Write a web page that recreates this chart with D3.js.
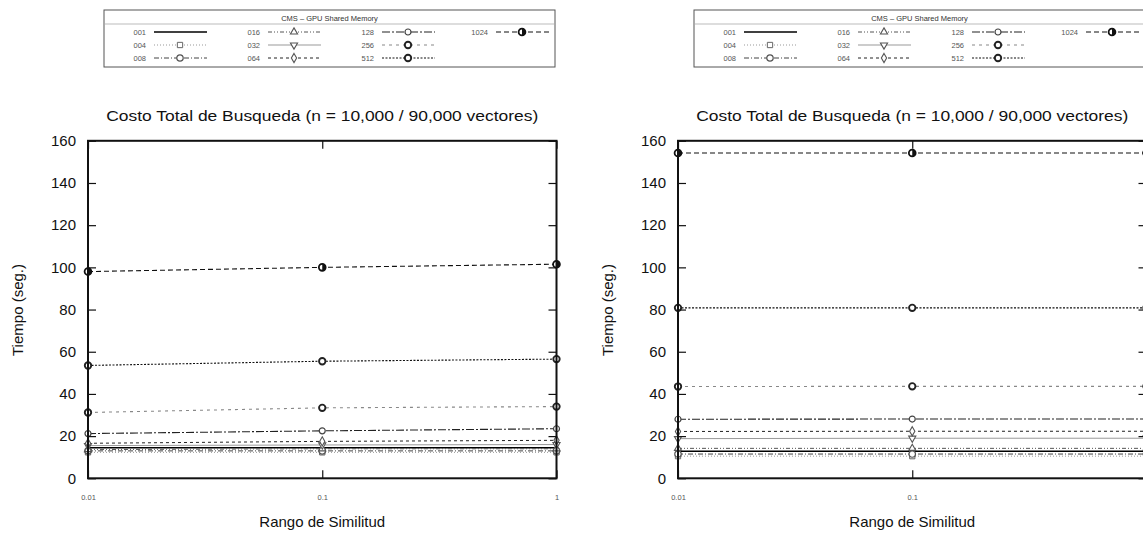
<!DOCTYPE html>
<html>
<head>
<meta charset="utf-8">
<script src="https://cdn.jsdelivr.net/npm/d3@7"></script>
<style>
  body { margin: 0; background: #fff; }
  svg { display: block; font-family: "Liberation Sans", Arial, sans-serif; }
</style>
</head>
<body>
<svg id="chart" width="1143" height="534"></svg>
<script>
// datos
var similitud = [0.01, 0.1, 1];
var series = ["001", "004", "008", "016", "032", "064", "128", "256", "512", "1024"];
var yTicks = [0, 20, 40, 60, 80, 100, 120, 140, 160];

// grafico izquierdo, un arreglo por serie (mismo orden que series)
var tiemposIzq = [
  [14.5, 14.5, 14.5],
  [12.3, 12.3, 12.3],
  [13, 13, 13],
  [13.6, 14, 14],
  [15.5, 15.8, 16],
  [16.6, 17.5, 18],
  [21.2, 22.5, 23.5],
  [31.2, 33.4, 34],
  [53.5, 55.5, 56.5],
  [98, 100, 101.5]
];
// grafico derecho
var tiemposDer = [
  [12.8, 12.8, 12.8],
  [10.5, 10.5, 10.5],
  [11.5, 11.5, 11.5],
  [14.2, 14.2, 14.2],
  [18.8, 19, 19],
  [22.2, 22.3, 22.3],
  [28, 28.1, 28.1],
  [43.5, 43.6, 43.6],
  [80.8, 80.8, 80.8],
  [154.2, 154.2, 154.2]
];

var titulo = "Costo Total de Busqueda (n = 10,000 / 90,000 vectores)";
var tituloLeyenda = "CMS \u2013 GPU Shared Memory";

// estilo de cada serie (linea y marcador)
var estilos = [
  {color: "#000", dash: null, w: 1.6, mark: null},
  {color: "#999", dash: "1,2", w: 1, mark: "square"},
  {color: "#444", dash: "5,2,1,2", w: 1, mark: "circle"},
  {color: "#555", dash: "4,2,1,2,1,2", w: 1, mark: "triangle"},
  {color: "#999", dash: null, w: 1, mark: "triangleDown"},
  {color: "#222", dash: "3,3", w: 1, mark: "diamond"},
  {color: "#222", dash: "8,2,2,2", w: 1.1, mark: "pentagon"},
  {color: "#888", dash: "3,4", w: 1.1, mark: "circleBold"},
  {color: "#111", dash: "2,1.5", w: 1.1, mark: "circleBold"},
  {color: "#111", dash: "5,3", w: 1.1, mark: "circleHalf"}
];

var svg = d3.select("#chart");

function drawMarker(g, tipo, cx, cy) {
  if (!tipo) return;
  var m = g.append("g").attr("transform", "translate(" + cx + "," + cy + ")");
  if (tipo === "square") {
    m.append("path").attr("d", d3.symbol(d3.symbolSquare, 28)()).attr("fill", "#fff").attr("stroke", "#666").attr("stroke-width", 1);
  } else if (tipo === "circle") {
    m.append("circle").attr("r", 3.2).attr("fill", "#fff").attr("stroke", "#555").attr("stroke-width", 1.2);
  } else if (tipo === "triangle") {
    m.append("path").attr("d", d3.symbol(d3.symbolTriangle, 22)()).attr("fill", "#fff").attr("stroke", "#555").attr("stroke-width", 1.1);
  } else if (tipo === "triangleDown") {
    m.append("path").attr("d", d3.symbol(d3.symbolTriangle, 22)()).attr("transform", "rotate(180)").attr("fill", "#fff").attr("stroke", "#555").attr("stroke-width", 1.1);
  } else if (tipo === "diamond") {
    m.append("path").attr("d", d3.symbol(d3.symbolDiamond, 24)()).attr("fill", "#fff").attr("stroke", "#555").attr("stroke-width", 1.1);
  } else if (tipo === "pentagon") {
    m.append("circle").attr("r", 3).attr("fill", "#fff").attr("stroke", "#444").attr("stroke-width", 1.2);
  } else if (tipo === "circleBold") {
    m.append("circle").attr("r", 3.2).attr("fill", "#fff").attr("stroke", "#222").attr("stroke-width", 1.9);
  } else if (tipo === "circleHalf") {
    m.append("circle").attr("r", 3.4).attr("fill", "#fff").attr("stroke", "#111").attr("stroke-width", 1.8);
    m.append("path").attr("d", "M0,-3.4 A3.4,3.4 0 0 1 0,3.4 Z").attr("fill", "#111");
  }
}

function drawLegend(ox) {
  var lg = svg.append("g").attr("transform", "translate(" + ox + ",0)");
  lg.append("rect").attr("x", 104).attr("y", 10).attr("width", 451).attr("height", 57)
    .attr("fill", "#fff").attr("stroke", "#555").attr("stroke-width", 1);
  lg.append("line").attr("x1", 104).attr("x2", 555).attr("y1", 24).attr("y2", 24)
    .attr("stroke", "#aaa").attr("stroke-width", 0.8);
  lg.append("text").attr("x", 329.5).attr("y", 20.5).attr("text-anchor", "middle")
    .attr("font-size", 7.5).attr("fill", "#333").text(tituloLeyenda);

  series.forEach(function(s, i) {
    var col = Math.floor(i / 3), row = i % 3;
    if (i === 9) { col = 3; row = 0; }
    var x0 = 104 + col * 114, yy = 32 + row * 13;
    var st = estilos[i];
    lg.append("text").attr("x", x0 + 42).attr("y", yy + 2.5).attr("text-anchor", "end")
      .attr("font-size", 7.5).attr("fill", "#555").text(s);
    lg.append("line").attr("x1", x0 + 50).attr("x2", x0 + 103).attr("y1", yy).attr("y2", yy)
      .attr("stroke", st.color).attr("stroke-width", st.w)
      .attr("stroke-dasharray", st.dash);
    drawMarker(lg, st.mark, x0 + 76, yy);
  });
}

function drawChart(ox, valores) {
  var x = d3.scaleLog().domain([0.01, 1]).range([88 + ox, 556.5 + ox]);
  var y = d3.scaleLinear().domain([0, 160]).range([478.3, 140.8]);

  var g = svg.append("g");

  // lineas
  var line = d3.line()
    .x(function(d, i) { return x(similitud[i]); })
    .y(function(d) { return y(d); });

  valores.forEach(function(vals, i) {
    var st = estilos[i];
    g.append("path").datum(vals)
      .attr("d", line)
      .attr("fill", "none")
      .attr("stroke", st.color)
      .attr("stroke-width", st.w)
      .attr("stroke-dasharray", st.dash);
  });
  valores.forEach(function(vals, i) {
    vals.forEach(function(v, j) {
      drawMarker(g, estilos[i].mark, x(similitud[j]), y(v));
    });
  });

  // ejes
  var yAxis = d3.axisLeft(y).tickValues(yTicks).tickSize(-8).tickSizeOuter(0).tickPadding(12);
  var gy = g.append("g").attr("transform", "translate(" + x(0.01) + ",0)").call(yAxis);
  gy.selectAll("text").attr("font-size", 15).attr("fill", "#111");

  var yRight = d3.axisRight(y).tickValues(yTicks).tickSize(-8).tickSizeOuter(0).tickFormat("");
  g.append("g").attr("transform", "translate(" + x(1) + ",0)").call(yRight);

  var xAxis = d3.axisBottom(x).tickValues(similitud).tickSize(-8).tickSizeOuter(0).tickPadding(16)
    .tickFormat(function(d) { return String(d); });
  var gx = g.append("g").attr("transform", "translate(0," + y(0) + ")").call(xAxis);
  gx.selectAll("text").attr("font-size", 7.5).attr("fill", "#555");

  var xTop = d3.axisTop(x).tickValues(similitud).tickSize(-8).tickSizeOuter(0).tickFormat("");
  g.append("g").attr("transform", "translate(0," + y(160) + ")").call(xTop);

  g.selectAll(".domain").attr("stroke", "none");
  g.selectAll(".tick line").attr("stroke", "#111").attr("stroke-width", 1.2);

  // marco
  g.append("rect")
    .attr("x", x(0.01)).attr("y", y(160))
    .attr("width", x(1) - x(0.01)).attr("height", y(0) - y(160))
    .attr("fill", "none").attr("stroke", "#111").attr("stroke-width", 2);

  // textos
  var cx = (x(0.01) + x(1)) / 2;
  g.append("text").attr("x", cx).attr("y", 121).attr("text-anchor", "middle")
    .attr("font-size", 15.5).attr("fill", "#111")
    .attr("textLength", 432).attr("lengthAdjust", "spacingAndGlyphs").text(titulo);
  g.append("text").attr("x", cx).attr("y", 527).attr("text-anchor", "middle")
    .attr("font-size", 15).attr("fill", "#111").text("Rango de Similitud");
  g.append("text").attr("transform", "translate(" + (23 + ox) + "," + 310 + ") rotate(-90)")
    .attr("text-anchor", "middle").attr("font-size", 15).attr("fill", "#111").text("Tiempo (seg.)");
}

drawLegend(0);
drawLegend(590);
drawChart(0, tiemposIzq);
drawChart(590, tiemposDer);
</script>
</body>
</html>
